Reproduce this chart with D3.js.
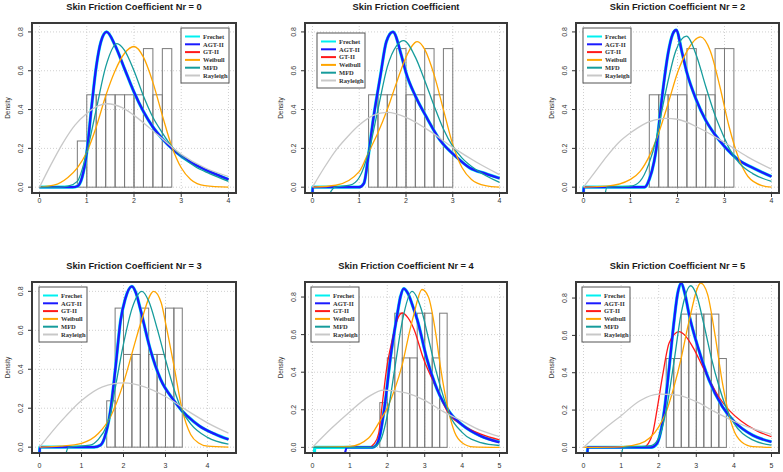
<!DOCTYPE html>
<html>
<head>
<meta charset="utf-8">
<script src="https://cdn.jsdelivr.net/npm/d3@7"></script>
<style>
body { margin: 0; background: #fff; }
</style>
</head>
<body>
<script>
// ---- data ----
var titles = ["Skin Friction Coefficient Nr = 0", "Skin Friction Coefficient",
  "Skin Friction Coefficient Nr = 2", "Skin Friction Coefficient Nr = 3",
  "Skin Friction Coefficient Nr = 4", "Skin Friction Coefficient Nr = 5"];
var xMaxes = [4, 4, 4, 4.5, 5, 5];
var yTops = [0.846, 0.846, 0.846, 0.848, 0.88, 0.886];
var yTicks = [0, 0.2, 0.4, 0.6, 0.8];
var names = ["Frechet", "AGT-II", "GT-II", "Weibull", "MFD", "Rayleigh"];

// histogram (density, bins of 0.2)
var binWidth = 0.2;
var binStarts = [0.8, 1.2, 1.4, 1.6, 1.8, 2.2];
var hist0 = [0.238, 0.476, 0.476, 0.476, 0.476, 0.476, 0.476, 0.714, 0.476, 0.714];
var hist1 = [0.476, 0.476, 0.476, 0.714, 0.476, 0.476, 0.714, 0.476, 0.714];
var hist2 = [0.476, 0.476, 0.476, 0.476, 0.714, 0.476, 0.476, 0.714, 0.714];
var hist3 = [0.238, 0.714, 0.476, 0.476, 0.714, 0.476, 0.476, 0.714, 0.714];
var hist4 = [0.238, 0.476, 0.714, 0.476, 0.476, 0.714, 0.714, 0.476, 0.714];
var hist5 = [0.476, 0.476, 0.714, 0.714, 0.714, 0.714, 0.714, 0.476];

// fitted densities, [x, density]
var frechet0 = [[0,0],[0.7,0],[0.8,0.005],[0.9,0.05],[1.0,0.18],[1.1,0.41],[1.2,0.62],[1.3,0.75],[1.42,0.80],[1.6,0.73],[1.8,0.61],[2.0,0.49],[2.2,0.39],[2.4,0.31],[2.6,0.25],[2.8,0.20],[3.0,0.16],[3.3,0.115],[3.6,0.08],[4.0,0.04]];
var agt0 = frechet0;
var gt0 = frechet0;
var weibull0 = [[0,0],[0.3,0.01],[0.6,0.05],[0.8,0.10],[1.0,0.18],[1.2,0.31],[1.4,0.47],[1.6,0.60],[1.8,0.69],[2.0,0.725],[2.2,0.67],[2.4,0.54],[2.6,0.37],[2.8,0.21],[3.0,0.10],[3.2,0.04],[3.5,0.008],[4.0,0]];
var mfd0 = [[0,0],[0.4,0],[0.6,0.005],[0.8,0.03],[1.0,0.18],[1.2,0.40],[1.4,0.62],[1.64,0.74],[1.8,0.705],[2.0,0.60],[2.2,0.47],[2.4,0.36],[2.6,0.28],[2.8,0.21],[3.0,0.16],[3.3,0.105],[3.6,0.07],[4.0,0.03]];
var rayleigh0 = [[0,0],[0.25,0.12],[0.5,0.23],[0.75,0.32],[1.0,0.38],[1.25,0.42],[1.43,0.43],[1.75,0.41],[2.0,0.37],[2.5,0.27],[3.0,0.17],[3.5,0.10],[4.0,0.055]];

var frechet1 = [[0,-0.05],[0.001,0],[1.0,0],[1.1,0.02],[1.2,0.17],[1.3,0.35],[1.45,0.57],[1.58,0.75],[1.72,0.80],[1.9,0.68],[2.0,0.59],[2.2,0.47],[2.44,0.36],[2.72,0.245],[3.08,0.155],[3.36,0.10],[3.7,0.07],[4.0,0.046]];
var agt1 = frechet1;
var gt1 = frechet1;
var weibull1 = [[0,0],[0.5,0.01],[1.0,0.08],[1.2,0.18],[1.4,0.28],[1.6,0.40],[1.8,0.54],[2.0,0.67],[2.24,0.75],[2.4,0.71],[2.6,0.58],[2.8,0.40],[3.0,0.22],[3.2,0.10],[3.4,0.04],[3.7,0.008],[4.0,0]];
var mfd1 = [[0.33,-0.05],[0.48,0],[0.8,0.01],[1.0,0.05],[1.21,0.19],[1.4,0.40],[1.6,0.62],[1.8,0.73],[1.95,0.755],[2.2,0.67],[2.4,0.55],[2.6,0.42],[2.8,0.30],[3.0,0.21],[3.2,0.15],[3.5,0.09],[4.0,0.025]];
var rayleigh1 = [[0,0],[0.25,0.10],[0.5,0.19],[0.75,0.26],[1.0,0.32],[1.3,0.37],[1.6,0.385],[2.0,0.36],[2.5,0.29],[3.0,0.205],[3.5,0.13],[4.0,0.065]];

var frechet2 = [[0,-0.05],[0.001,0],[1.3,0],[1.4,0.04],[1.5,0.13],[1.55,0.2],[1.6,0.31],[1.7,0.52],[1.8,0.69],[1.9,0.79],[1.97,0.81],[2.1,0.69],[2.2,0.59],[2.4,0.45],[2.6,0.345],[2.8,0.27],[3.0,0.21],[3.3,0.14],[3.6,0.10],[4.0,0.055]];
var agt2 = frechet2;
var gt2 = frechet2;
var weibull2 = [[0,0],[0.5,0.005],[1.0,0.04],[1.2,0.08],[1.4,0.16],[1.6,0.28],[1.8,0.43],[2.0,0.59],[2.2,0.70],[2.49,0.774],[2.7,0.70],[2.9,0.52],[3.1,0.31],[3.3,0.15],[3.5,0.055],[3.8,0.008],[4.0,0]];
var mfd2 = [[0.45,-0.05],[0.5,0],[1.0,0.005],[1.2,0.03],[1.39,0.12],[1.55,0.25],[1.68,0.41],[1.82,0.57],[1.96,0.70],[2.19,0.778],[2.4,0.68],[2.6,0.52],[2.8,0.37],[2.95,0.28],[3.1,0.20],[3.31,0.125],[3.6,0.07],[4.0,0.03]];
var rayleigh2 = [[0,0],[0.25,0.08],[0.5,0.16],[0.75,0.23],[1.0,0.28],[1.25,0.32],[1.5,0.345],[1.75,0.355],[2.0,0.35],[2.5,0.30],[3.0,0.23],[3.5,0.155],[4.0,0.093]];

var frechet3 = [[0,-0.05],[0.001,0],[1.3,0],[1.45,0.01],[1.55,0.05],[1.69,0.19],[1.81,0.41],[1.93,0.65],[2.04,0.76],[2.2,0.826],[2.3,0.79],[2.4,0.71],[2.64,0.50],[2.88,0.35],[3.2,0.24],[3.4,0.185],[3.52,0.16],[3.8,0.11],[4.2,0.065],[4.5,0.04]];
var agt3 = frechet3;
var gt3 = frechet3;
var weibull3 = [[0,0],[0.5,0.005],[1.0,0.02],[1.4,0.07],[1.7,0.16],[2.0,0.33],[2.2,0.48],[2.4,0.63],[2.72,0.80],[2.9,0.74],[3.0,0.64],[3.2,0.42],[3.4,0.19],[3.6,0.065],[3.8,0.02],[4.0,0.005],[4.5,0]];
var mfd3 = [[0.61,-0.05],[0.69,0],[1.2,0.01],[1.4,0.04],[1.6,0.11],[1.69,0.17],[1.8,0.30],[2.0,0.53],[2.2,0.71],[2.44,0.80],[2.6,0.75],[2.8,0.61],[3.0,0.45],[3.2,0.30],[3.4,0.185],[3.6,0.12],[4.0,0.05],[4.5,0.015]];
var rayleigh3 = [[0,0],[0.5,0.13],[1.0,0.24],[1.5,0.31],[2.0,0.33],[2.5,0.31],[3.0,0.26],[3.5,0.19],[4.0,0.125],[4.5,0.072]];

var frechet4 = [[0.05,-0.05],[0.06,0],[1.6,0],[1.7,0.01],[1.81,0.07],[1.95,0.25],[2.08,0.47],[2.26,0.70],[2.35,0.80],[2.44,0.845],[2.55,0.82],[2.7,0.74],[2.8,0.68],[3.06,0.47],[3.33,0.31],[3.69,0.18],[4.0,0.12],[4.5,0.06],[5.0,0.03]];
var agt4 = [[0.85,-0.05],[0.92,0],[1.6,0],[1.7,0.01],[1.81,0.07],[1.95,0.25],[2.08,0.47],[2.26,0.70],[2.35,0.80],[2.44,0.845],[2.55,0.82],[2.7,0.74],[2.8,0.68],[3.06,0.47],[3.33,0.31],[3.69,0.18],[4.0,0.12],[4.5,0.06],[5.0,0.027]];
var gt4 = [[0,0],[1.5,0],[1.65,0.02],[1.77,0.075],[1.86,0.22],[1.99,0.43],[2.13,0.57],[2.25,0.67],[2.4,0.715],[2.55,0.69],[2.71,0.63],[2.97,0.47],[3.33,0.31],[3.64,0.18],[4.0,0.12],[4.5,0.07],[5.0,0.04]];
var weibull4 = [[0,0],[1.0,0.005],[1.5,0.05],[1.8,0.14],[2.0,0.21],[2.2,0.31],[2.4,0.44],[2.6,0.62],[2.7,0.70],[2.93,0.84],[3.1,0.80],[3.3,0.60],[3.42,0.43],[3.64,0.19],[3.8,0.08],[4.0,0.025],[4.3,0.003],[5.0,0]];
var mfd4 = [[0,0],[1.6,0],[1.8,0.03],[2.0,0.17],[2.2,0.42],[2.4,0.67],[2.66,0.83],[2.9,0.74],[3.1,0.58],[3.3,0.41],[3.5,0.27],[3.65,0.18],[4.0,0.08],[4.5,0.025],[5.0,0.01]];
var rayleigh4 = [[0,0],[0.5,0.10],[1.0,0.19],[1.5,0.27],[1.9,0.305],[2.5,0.29],[3.0,0.25],[3.5,0.19],[4.0,0.14],[4.5,0.09],[5.0,0.057]];

var frechet5 = [[0.1,-0.05],[0.11,0],[1.8,0],[1.95,0.02],[2.05,0.08],[2.15,0.2],[2.28,0.43],[2.41,0.68],[2.5,0.82],[2.6,0.88],[2.7,0.82],[2.81,0.71],[3.07,0.52],[3.34,0.36],[3.69,0.22],[4.0,0.14],[4.5,0.065],[5.0,0.03]];
var agt5 = frechet5;
var gt5 = [[0,0],[1.6,0],[1.72,0.02],[1.84,0.075],[1.97,0.22],[2.1,0.38],[2.28,0.56],[2.54,0.62],[2.7,0.6],[2.9,0.54],[3.25,0.40],[3.6,0.27],[3.87,0.2],[4.2,0.14],[4.6,0.09],[5.0,0.057]];
var weibull5 = [[0,0],[1.0,0.003],[1.5,0.02],[2.0,0.11],[2.2,0.19],[2.4,0.32],[2.6,0.48],[2.8,0.67],[3.12,0.88],[3.3,0.82],[3.5,0.60],[3.7,0.34],[3.85,0.19],[4.0,0.09],[4.2,0.03],[4.5,0.004],[5.0,0]];
var mfd5 = [[1.0,-0.05],[1.06,0],[1.8,0.01],[2.0,0.05],[2.2,0.2],[2.4,0.45],[2.6,0.72],[2.85,0.866],[3.0,0.82],[3.2,0.66],[3.4,0.48],[3.6,0.33],[3.8,0.21],[4.0,0.13],[4.5,0.04],[5.0,0.012]];
var rayleigh5 = [[0,0],[0.5,0.09],[1.0,0.17],[1.5,0.25],[2.0,0.285],[2.5,0.28],[3.0,0.245],[3.5,0.19],[4.0,0.14],[4.5,0.10],[5.0,0.07]];

var hists = [hist0, hist1, hist2, hist3, hist4, hist5];
var curves = [
  [frechet0, agt0, gt0, weibull0, mfd0, rayleigh0],
  [frechet1, agt1, gt1, weibull1, mfd1, rayleigh1],
  [frechet2, agt2, gt2, weibull2, mfd2, rayleigh2],
  [frechet3, agt3, gt3, weibull3, mfd3, rayleigh3],
  [frechet4, agt4, gt4, weibull4, mfd4, rayleigh4],
  [frechet5, agt5, gt5, weibull5, mfd5, rayleigh5]
];

// ---- layout / style ----
var colors = ["#00f0f0", "#1a1aff", "#ff1a1a", "#ffa500", "#169c9c", "#c8c8c8"];
var widths = [3.2, 2.3, 1.3, 1.3, 1.3, 1.3];
var drawOrder = [0, 2, 1, 3, 4, 5];
var colLeft = [32, 305, 576], colRight = [236, 507, 779];
var rowTop = [23, 282], rowBottom = [193, 453];
var tickLabelGap = [10, 15];   // top row labels are cut short in the picture
var legendPos = [[-55, 5], [12, 10], [7, 5], [7, 5], [6, 5], [6, 5]];

var svg = d3.select("body").append("svg")
    .attr("width", 783)
    .attr("height", 472)
    .style("font-family", "'Liberation Sans', Arial, sans-serif");

var defs = svg.append("defs");

for (let i = 0; i < 6; i++) {
    let col = i % 3, row = Math.floor(i / 3);
    let L = colLeft[col], R = colRight[col], T = rowTop[row], B = rowBottom[row];
    let xm = xMaxes[i];

    let x = d3.scaleLinear().domain([-0.04 * xm, 1.04 * xm]).range([L, R]);
    let y = d3.scaleLinear().domain([-0.03, yTops[i]]).range([B, T]);

    let g = svg.append("g");

    defs.append("clipPath").attr("id", "clip" + i)
        .append("rect").attr("x", L).attr("y", T).attr("width", R - L).attr("height", B - T);

    // grid
    let xt = d3.range(0, Math.floor(xm) + 1);
    g.selectAll(".gx").data(xt).enter().append("line")
        .attr("x1", d => x(d)).attr("x2", d => x(d))
        .attr("y1", T).attr("y2", B)
        .attr("stroke", "#d0d0d0").attr("stroke-dasharray", "1,2");
    g.selectAll(".gy").data(yTicks).enter().append("line")
        .attr("x1", L).attr("x2", R)
        .attr("y1", d => y(d)).attr("y2", d => y(d))
        .attr("stroke", "#d0d0d0").attr("stroke-dasharray", "1,2");

    let plot = g.append("g").attr("clip-path", "url(#clip" + i + ")");

    // histogram
    plot.selectAll(".bar").data(hists[i]).enter().append("rect")
        .attr("x", (d, j) => x(binStarts[i] + j * binWidth))
        .attr("width", x(binWidth) - x(0))
        .attr("y", d => y(d))
        .attr("height", d => y(0) - y(d))
        .attr("fill", "none")
        .attr("stroke", "#7a7a7a")
        .attr("stroke-width", 1);

    // density curves
    let line = d3.line()
        .x(d => x(d[0]))
        .y(d => y(d[1]))
        .curve(d3.curveMonotoneX);
    drawOrder.forEach(function(k) {
        plot.append("path")
            .attr("d", line(curves[i][k]))
            .attr("fill", "none")
            .attr("stroke", colors[k])
            .attr("stroke-width", widths[k])
            .attr("stroke-linejoin", "round");
    });

    // box
    g.append("rect")
        .attr("x", L).attr("y", T).attr("width", R - L).attr("height", B - T)
        .attr("fill", "none").attr("stroke", "#3a3a3a").attr("stroke-width", 2);

    // y axis
    yTicks.forEach(function(t) {
        g.append("line").attr("x1", L - 4).attr("x2", L).attr("y1", y(t)).attr("y2", y(t))
            .attr("stroke", "#333");
        g.append("text")
            .attr("transform", "translate(" + (L - 9) + "," + y(t) + ") rotate(-90)")
            .attr("text-anchor", "middle")
            .style("font-size", "7px").attr("fill", "#333")
            .text(t.toFixed(1));
    });
    g.append("text")
        .attr("transform", "translate(" + (L - 22) + "," + ((T + B) / 2) + ") rotate(-90)")
        .attr("text-anchor", "middle")
        .style("font-size", "6.5px").attr("fill", "#333")
        .text("Density");

    // x axis
    xt.forEach(function(t) {
        g.append("line").attr("x1", x(t)).attr("x2", x(t)).attr("y1", B).attr("y2", B + 4)
            .attr("stroke", "#333");
        g.append("text")
            .attr("x", x(t)).attr("y", B + tickLabelGap[row])
            .attr("text-anchor", "middle")
            .style("font-size", "7px").attr("fill", "#333")
            .text(t);
    });

    // title
    g.append("text")
        .attr("x", (L + R) / 2).attr("y", T - 13.5)
        .attr("text-anchor", "middle")
        .style("font-size", "9.3px").style("font-weight", "bold")
        .attr("fill", "#1a1a1a")
        .text(titles[i]);

    // legend
    let lx = legendPos[i][0] < 0 ? R + legendPos[i][0] : L + legendPos[i][0];
    let ly = T + legendPos[i][1];
    let leg = g.append("g").attr("transform", "translate(" + lx + "," + ly + ")");
    leg.append("rect").attr("width", 48).attr("height", 55)
        .attr("fill", "#fff").attr("stroke", "#555").attr("stroke-width", 1);
    names.forEach(function(n, k) {
        leg.append("line").attr("x1", 4).attr("x2", 19)
            .attr("y1", 8.5 + k * 7.8).attr("y2", 8.5 + k * 7.8)
            .attr("stroke", colors[k]).attr("stroke-width", 2);
        leg.append("text").attr("x", 22).attr("y", 10.8 + k * 7.8)
            .style("font-family", "'Liberation Serif', 'Times New Roman', serif")
            .style("font-size", "6.5px").style("font-weight", "bold")
            .attr("fill", "#333")
            .text(n);
    });
}
</script>
</body>
</html>
